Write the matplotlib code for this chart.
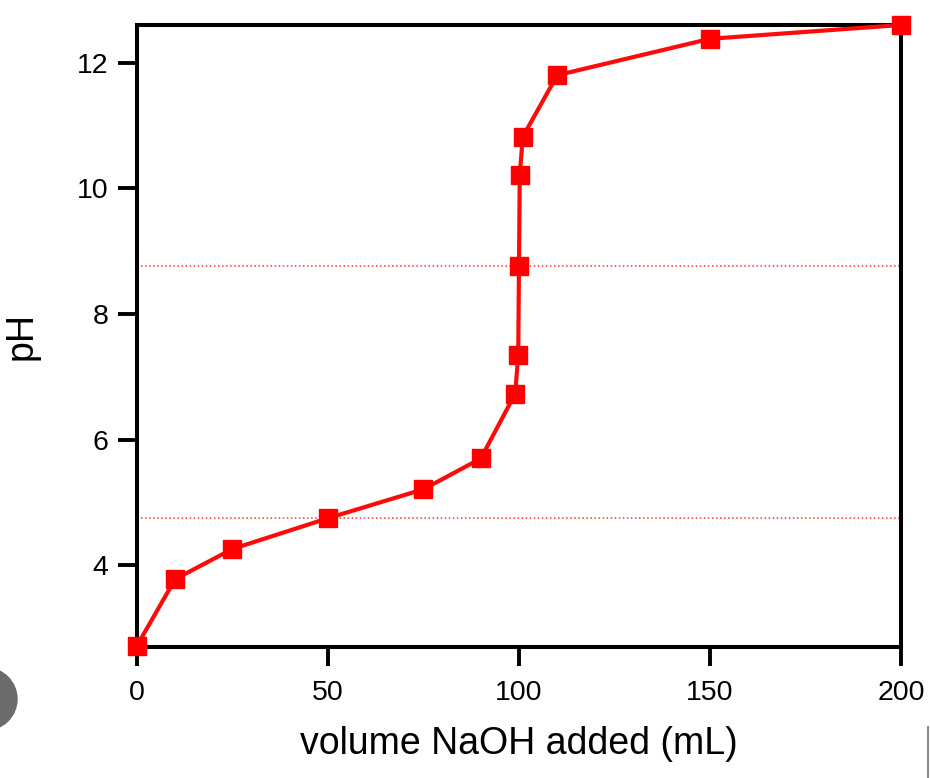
import matplotlib
matplotlib.use("Agg")
import matplotlib.pyplot as plt
from matplotlib.patches import Circle
from matplotlib.lines import Line2D

plt.rcParams['font.family'] = ['Liberation Sans', 'DejaVu Sans']

# titration data
volume = [0, 10, 25, 50, 75, 90, 99, 99.8, 100, 100.2, 101, 110, 150, 200]
ph = [2.72, 3.78, 4.26, 4.75, 5.21, 5.70, 6.73, 7.34, 8.77, 10.21, 10.82, 11.80, 12.38, 12.60]
ref_lines = [8.77, 4.75]

fig = plt.figure(figsize=(9.3, 7.78), dpi=100)
ax = fig.add_axes([0.1473, 0.1684, 0.8215, 0.7995])

for y in ref_lines:
    ax.axhline(y, color='#ff3030', lw=1.1, ls=':', zorder=1)

ax.plot(volume, ph, color='#ff0a0a', lw=3, marker='s', markersize=12.5,
        markerfacecolor='#ff0000', markeredgecolor='#ff0000', zorder=3, clip_on=False)

ax.set_xlim(0, 200)
ax.set_ylim(2.7, 12.6)
ax.set_xticks([0, 50, 100, 150, 200])
ax.set_yticks([4, 6, 8, 10, 12])

for s in ax.spines.values():
    s.set_linewidth(2.9)
ax.tick_params(direction='out', length=13.5, width=2.8, top=False, right=False)
ax.tick_params(axis='y', pad=7)
ax.tick_params(axis='x', pad=10)
for lab in ax.get_xticklabels() + ax.get_yticklabels():
    lab.set_fontsize(20.5)

ax.set_xlabel("volume NaOH added (mL)", fontsize=27, labelpad=15)
ax.set_ylabel("pH", fontsize=27, labelpad=27)

# screenshot leftovers: grey round button and a thin bar at the bottom edge
fig.patches.append(Circle((-0.14, 0.79), 0.31, transform=fig.dpi_scale_trans,
                          color='#6b6b6b', zorder=0))
fig.lines.append(Line2D([0.9975, 0.9975], [0.0, 0.066], transform=fig.transFigure,
                        color='#8a8a8a', lw=1.5))

fig.savefig("out.png", dpi=100)
